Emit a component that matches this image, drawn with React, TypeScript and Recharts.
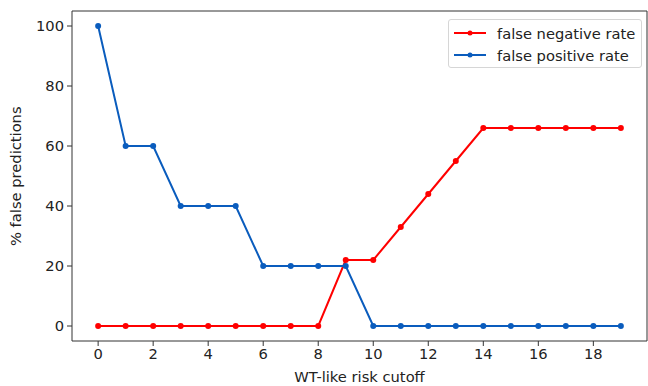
import { LineChart, Line, XAxis, YAxis } from 'recharts';

const cutoffs = [0, 1, 2, 3, 4, 5, 6, 7, 8, 9, 10, 11, 12, 13, 14, 15, 16, 17, 18, 19];
const falseNegative = [0, 0, 0, 0, 0, 0, 0, 0, 0, 22, 22, 33, 44, 55, 66, 66, 66, 66, 66, 66];
const falsePositive = [100, 60, 60, 40, 40, 40, 20, 20, 20, 20, 0, 0, 0, 0, 0, 0, 0, 0, 0, 0];
const xTicks = [0, 2, 4, 6, 8, 10, 12, 14, 16, 18];
const yTicks = [0, 20, 40, 60, 80, 100];

const RED = '#ff0000';
const BLUE = '#0a5cbd';
const FONT = '"DejaVu Sans", sans-serif';
const FS = 14.7;

const data = cutoffs.map((c, i) => ({ cutoff: c, fnr: falseNegative[i], fpr: falsePositive[i] }));

function LegendBox() {
  const rows = [
    { label: 'false negative rate', color: RED },
    { label: 'false positive rate', color: BLUE },
  ];
  return (
    <div
      style={{
        position: 'absolute',
        left: 448,
        top: 19,
        width: 194,
        height: 49,
        border: '1px solid #d6d6d6',
        borderRadius: 3,
        background: '#fff',
        padding: '2px 0 0 4px',
        fontFamily: FONT,
        fontSize: FS,
        color: '#222',
        boxSizing: 'border-box',
      }}
    >
      {rows.map((r) => (
        <div key={r.label} style={{ display: 'flex', alignItems: 'center', height: 22, whiteSpace: 'nowrap' }}>
          <svg width={34} height={10} style={{ marginRight: 10 }}>
            <line x1={1} y1={5} x2={33} y2={5} stroke={r.color} strokeWidth={2} />
            <circle cx={17} cy={5} r={2.5} fill={r.color} />
          </svg>
          <span>{r.label}</span>
        </div>
      ))}
    </div>
  );
}

export default function App() {
  return (
    <div style={{ position: 'absolute', left: 0, top: 0, width: 648, height: 386, background: '#fff' }}>
      <LineChart width={648} height={386} data={data} margin={{ top: 10, right: 0, left: 0, bottom: 0 }}>
        <XAxis
          dataKey="cutoff"
          type="number"
          domain={[-0.95, 19.95]}
          ticks={xTicks}
          allowDataOverflow
          height={45}
          stroke="#333"
          tickSize={5}
          tickMargin={3}
          tick={{ fill: '#222', fontSize: FS, fontFamily: FONT }}
          label={{ value: 'WT-like risk cutoff', position: 'insideBottom', offset: 4, fill: '#222', fontSize: FS, fontFamily: FONT }}
        />
        <XAxis xAxisId="top" dataKey="cutoff" type="number" domain={[-0.95, 19.95]} orientation="top" height={1} tick={false} tickLine={false} stroke="#333" />
        <YAxis
          type="number"
          domain={[-5, 105]}
          ticks={yTicks}
          allowDataOverflow
          width={72}
          stroke="#333"
          tickSize={5}
          tickMargin={3}
          tick={{ fill: '#222', fontSize: FS, fontFamily: FONT }}
          label={{ value: '% false predictions', angle: -90, position: 'insideLeft', offset: 16, dy: 70, fill: '#222', fontSize: FS, fontFamily: FONT }}
        />
        <YAxis yAxisId="right" orientation="right" width={1} domain={[-5, 105]} tick={false} tickLine={false} stroke="#333" />
        <Line
          dataKey="fnr"
          stroke={RED}
          strokeWidth={2}
          dot={{ r: 3, fill: RED, stroke: RED, strokeWidth: 0 }}
          activeDot={false}
          isAnimationActive={false}
        />
        <Line
          dataKey="fpr"
          stroke={BLUE}
          strokeWidth={2}
          dot={{ r: 3, fill: BLUE, stroke: BLUE, strokeWidth: 0 }}
          activeDot={false}
          isAnimationActive={false}
        />
      </LineChart>
      <LegendBox />
    </div>
  );
}
